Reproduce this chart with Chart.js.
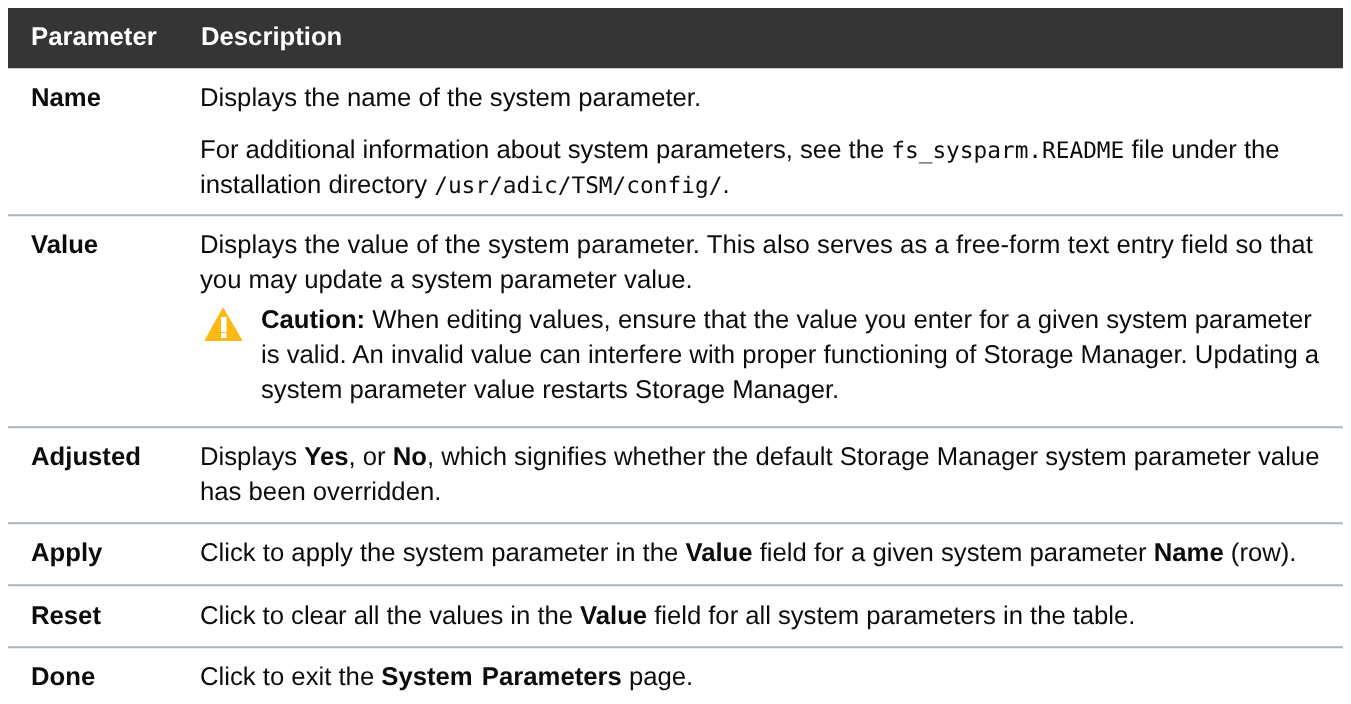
<!DOCTYPE html>
<html><head><meta charset="utf-8">
<script src="https://cdn.jsdelivr.net/npm/chart.js@4/dist/chart.umd.min.js"></script>
<style>
html,body{margin:0;padding:0;background:#fff;overflow:hidden}
#wrap{position:relative;width:1351px;height:704px}
canvas{position:absolute;left:0;top:0}
.t{position:absolute;white-space:nowrap;font:25.7px/30px "Liberation Sans",Arial,sans-serif;color:#0c0c0c;transform:translateY(-50%);text-rendering:geometricPrecision}
.t b{font-weight:700}
.t code{font:22.8px/30px "DejaVu Sans Mono",monospace}
.h{color:#fff;font-weight:700}
svg{position:absolute}
</style></head><body>
<div id="wrap"><canvas id="c" width="1351" height="704"></canvas></div>
<script>
const rowNames=["Header","Name","sep1","Value","sep2","Adjusted","sep3","Apply","sep4","Reset","sep5","Done"];
const rowHeights=[60,146,2,210,2,94,2,60,2,60,2,56];
const rowColors=["#353535","#ffffff","#aab4bc","#ffffff","#aab4bc","#ffffff","#aab4bc","#ffffff","#aab4bc","#ffffff","#aab4bc","#ffffff"];
const textLines=[
 [31,37,'<span class="h">Parameter</span>'],
 [201,37,'<span class="h">Description</span>'],
 [31,98,'<b>Name</b>'],
 [200,98,'Displays the name of the system parameter.'],
 [200,150,'For additional information about system parameters, see the <code>fs_sysparm.README</code> file under the',-0.02],
 [200,185,'installation directory <code>/usr/adic/TSM/config/</code>.'],
 [31,245,'<b>Value</b>'],
 [200,245,'Displays the value of the system parameter. This also serves as a free-form text entry field so that',0.04],
 [200,280,'you may update a system parameter value.'],
 [261,320,'<b>Caution:</b> When editing values, ensure that the value you enter for a given system parameter'],
 [261,355,'is valid. An invalid value can interfere with proper functioning of Storage Manager. Updating a'],
 [261,390,'system parameter value restarts Storage Manager.'],
 [31,457,'<b>Adjusted</b>'],
 [200,457,'Displays <b>Yes</b>, or <b>No</b>, which signifies whether the default Storage Manager system parameter value'],
 [200,492,'has been overridden.'],
 [31,553,'<b>Apply</b>'],
 [200,553,'Click to apply the system parameter in the <b>Value</b> field for a given system parameter <b>Name</b> (row).'],
 [31,616,'<b>Reset</b>'],
 [200,616,'Click to clear all the values in the <b>Value</b> field for all system parameters in the table.',-0.03],
 [31,677,'<b>Done</b>'],
 [200,677,'Click to exit the <b style="word-spacing:2px">System Parameters</b> page.']
];
new Chart(document.getElementById('c'),{
 type:'bar',
 data:{labels:['Table'],datasets:rowNames.map((n,i)=>({label:n,data:[rowHeights[i]],backgroundColor:rowColors[i],borderWidth:0,barPercentage:1,categoryPercentage:1}))},
 options:{responsive:false,animation:false,
  layout:{padding:{left:8,right:8,top:8,bottom:0}},
  plugins:{legend:{display:false},tooltip:{enabled:false},title:{display:false}},
  scales:{x:{display:false,stacked:true},y:{display:false,stacked:true,reverse:true,min:0,max:696}}}
});
const wrap=document.getElementById('wrap');
textLines.forEach(([x,y,html,ls])=>{const d=document.createElement('div');d.className='t';d.style.left=x+'px';d.style.top=y+'px';if(ls)d.style.letterSpacing=ls+'px';d.innerHTML=html;wrap.appendChild(d);});
wrap.insertAdjacentHTML('beforeend','<svg style="left:203px;top:306px" width="42" height="36" viewBox="0 0 42 36"><path d="M20 2 L39 34.5 L2 34.5 Z" fill="#fdb913" stroke="#fdb913" stroke-linejoin="round" stroke-width="1"/><rect x="18" y="11" width="5.5" height="15" fill="#fff"/><rect x="18" y="27" width="5.5" height="5" fill="#fff"/></svg>');
</script>
</body></html>
